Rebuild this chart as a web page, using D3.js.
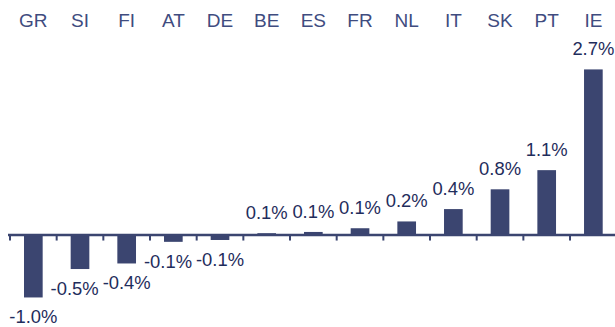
<!DOCTYPE html>
<html>
<head>
<meta charset="utf-8">
<script src="https://cdn.jsdelivr.net/npm/d3@7"></script>
<style>
  html, body { margin: 0; padding: 0; background: #ffffff; }
  svg { display: block; }
</style>
</head>
<body>
<svg id="chart" width="615" height="327"></svg>
<script>
const categories = ["GR","SI","FI","AT","DE","BE","ES","FR","NL","IT","SK","PT","IE"];
const values = [-1.01, -0.55, -0.46, -0.11, -0.08, 0.03, 0.05, 0.11, 0.22, 0.42, 0.74, 1.05, 2.68];
const valueLabels = ["-1.0%","-0.5%","-0.4%","-0.1%","-0.1%","0.1%","0.1%","0.1%","0.2%","0.4%","0.8%","1.1%","2.7%"];

const svg = d3.select("#chart");
const barColor = "#3b4570";
const labelColor = "#1f2d5c";
const catColor = "#3f4c7f";
const font = "'Liberation Sans', Arial, sans-serif";

const x = d3.scaleBand().domain(categories).range([10, 616.7]).paddingInner(0.6).paddingOuter(0.3);
const step = x.step();
const y = d3.scaleLinear().domain([-1.2, 2.8]).range([309.2, 62]);
const y0 = y(0);

// bars
svg.append("g").selectAll("rect").data(categories).join("rect")
  .attr("x", d => x(d))
  .attr("width", x.bandwidth())
  .attr("y", (d, i) => Math.min(y(values[i]), y0))
  .attr("height", (d, i) => Math.abs(y(values[i]) - y0))
  .attr("fill", barColor);

// axis line
const axisStart = x.range()[0] - 2;
const axisEnd = x.range()[1];
svg.append("line")
  .attr("x1", axisStart).attr("x2", axisEnd)
  .attr("y1", y0).attr("y2", y0)
  .attr("stroke", barColor).attr("stroke-width", 2.5);

// ticks at band boundaries
const tickPos = d3.range(categories.length + 1).map(i => x.range()[0] + i * step);
svg.append("g").selectAll("line").data(tickPos).join("line")
  .attr("x1", d => d).attr("x2", d => d)
  .attr("y1", y0).attr("y2", y0 + 5.5)
  .attr("stroke", barColor).attr("stroke-width", 2);

// category labels at top
svg.append("g").selectAll("text").data(categories).join("text")
  .attr("x", d => x(d) + x.bandwidth() / 2)
  .attr("y", 27.3)
  .attr("text-anchor", "middle")
  .attr("font-family", font)
  .attr("font-size", "19px")
  .attr("fill", catColor)
  .text(d => d);

// value labels
const labels = svg.append("g").selectAll("text").data(categories).join("text")
  .attr("x", d => x(d) + x.bandwidth() / 2)
  .attr("y", (d, i) => values[i] >= 0 ? y(values[i]) - 14 : y(values[i]) + 13 + 13)
  .attr("text-anchor", "middle")
  .attr("font-family", font)
  .attr("font-size", "18.4px")
  .attr("fill", labelColor)
  .text((d, i) => valueLabels[i]);

// simple collision avoidance for adjacent negative labels: push left one leftwards
const nodes = labels.nodes();
for (let i = nodes.length - 2; i >= 0; i--) {
  if (values[i] < 0 && values[i + 1] < 0) {
    const a = nodes[i], b = nodes[i + 1];
    const wa = a.getComputedTextLength(), wb = b.getComputedTextLength();
    const ax = +a.getAttribute("x"), bx = +b.getAttribute("x");
    const ay = +a.getAttribute("y"), by = +b.getAttribute("y");
    if (Math.abs(ay - by) < 14) {
      const overlap = (ax + wa / 2) - (bx - wb / 2) + 4;
      if (overlap > 0) a.setAttribute("x", ax - overlap);
    }
  }
}
</script>
</body>
</html>
